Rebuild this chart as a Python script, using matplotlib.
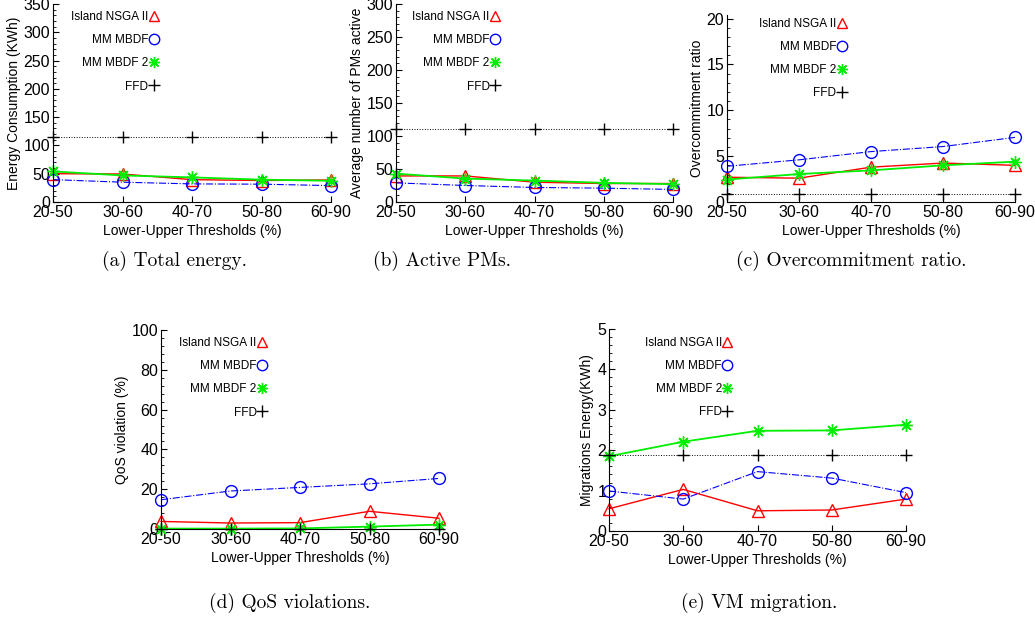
import matplotlib
matplotlib.use("Agg")
import matplotlib.pyplot as plt
from matplotlib.lines import Line2D
from matplotlib.ticker import AutoMinorLocator, MultipleLocator

categories = ["20-50", "30-60", "40-70", "50-80", "60-90"]
series_names = ["Island NSGA II", "MM MBDF", "MM MBDF 2", "FFD"]

energy_nsga = [50, 49.5, 39.5, 38, 39]
energy_mbdf = [39.5, 35, 32, 31.5, 29]
energy_mbdf2 = [54, 47, 43.5, 39.5, 37.5]
energy_ffd = [115, 115, 115, 115, 115]

pms_nsga = [39.5, 39.5, 30, 28, 28]
pms_mbdf = [29, 25, 22, 21, 19]
pms_mbdf2 = [43, 35.5, 32.5, 29, 27]
pms_ffd = [110, 110, 110, 110, 110]

oc_nsga = [2.7, 2.6, 3.8, 4.25, 4.0]
oc_mbdf = [3.9, 4.6, 5.5, 6.05, 7.05]
oc_mbdf2 = [2.45, 3.05, 3.45, 4.0, 4.4]
oc_ffd = [0.85, 0.85, 0.85, 0.85, 0.85]

qos_nsga = [3.8, 3.0, 3.2, 8.9, 5.4]
qos_mbdf = [14.7, 19.1, 20.9, 22.7, 25.4]
qos_mbdf2 = [0.2, 0.2, 0.3, 1.2, 2.2]
qos_ffd = [0, 0, 0, 0, 0]

mig_nsga = [0.55, 1.03, 0.5, 0.52, 0.79]
mig_mbdf = [0.99, 0.79, 1.47, 1.31, 0.95]
mig_mbdf2 = [1.85, 2.21, 2.48, 2.49, 2.63]
mig_ffd = [1.87, 1.87, 1.87, 1.87, 1.87]

SANS = ["Liberation Sans", "DejaVu Sans"]
plt.rcParams["font.family"] = SANS

W, H = 1035, 621
fig = plt.figure(figsize=(W / 100, H / 100), dpi=100)


def ax_from_px(left, right, top, bottom):
    return fig.add_axes([left / W, 1 - bottom / H, (right - left) / W, (bottom - top) / H])


ASTERISK = (8, 2, 0)
styles = [
    dict(color="#ff0000", linestyle="-", marker="^", mfc="none", mec="#ff0000", ms=8, lw=1.0),
    dict(color="#0000ff", linestyle="-.", marker="o", mfc="none", mec="#0000ff", ms=8.5, lw=0.8),
    dict(color="#00ee00", linestyle="-", marker=ASTERISK, mfc="#00ee00", mec="#00ee00", ms=9, lw=1.3),
    dict(color="black", linestyle=":", marker="+", mfc="black", mec="black", ms=9, lw=0.7),
]


def panel(rect, data, ylim, major, ylabel, leg_x, leg_y):
    ax = ax_from_px(*rect)
    x = list(range(len(categories)))
    for ys, st in zip(data, styles):
        ax.plot(x, ys, clip_on=False, markeredgewidth=1.0, **st)
    ax.set_xlim(0, len(categories) - 1)
    ax.set_ylim(*ylim)
    ax.set_xticks(x)
    ax.set_xticklabels(categories)
    ax.yaxis.set_major_locator(MultipleLocator(major))
    ax.yaxis.set_minor_locator(AutoMinorLocator(5))
    ax.spines["top"].set_visible(False)
    ax.spines["right"].set_visible(False)
    ax.tick_params(axis="both", which="major", direction="in", length=4, width=0.8,
                   labelsize=11.5, pad=2)
    ax.tick_params(axis="y", which="minor", direction="in", length=2, width=0.6)
    ax.set_xlabel("Lower-Upper Thresholds (%)", fontsize=10, labelpad=3)
    ax.set_ylabel(ylabel, fontsize=10, labelpad=2)
    handles = [Line2D([], [], linestyle="none", marker=st["marker"], mfc=st["mfc"],
                      mec=st["mec"], ms=st["ms"] - 1, markeredgewidth=1.0) for st in styles]
    ax.legend(handles, series_names, loc="upper right", bbox_to_anchor=(leg_x, leg_y),
              frameon=False, markerfirst=False, handlelength=0.6, handletextpad=0.15,
              labelspacing=0.95, borderpad=0, borderaxespad=0, fontsize=8.5)
    return ax


panel((53, 331, 4, 202), [energy_nsga, energy_mbdf, energy_mbdf2, energy_ffd],
      (0, 350), 50, "Energy Consumption (KWh)", 0.375, 0.965)
panel((396, 673, 4, 202), [pms_nsga, pms_mbdf, pms_mbdf2, pms_ffd],
      (0, 300), 50, "Average number of PMs active", 0.37, 0.965)
panel((727, 1015, 15, 202), [oc_nsga, oc_mbdf, oc_mbdf2, oc_ffd],
      (0, 20.4), 5, "Overcommitment ratio", 0.41, 0.985)
panel((161, 439, 330, 529), [qos_nsga, qos_mbdf, qos_mbdf2, qos_ffd],
      (0, 100), 20, "QoS violation (%)", 0.376, 0.965)
panel((609, 906, 329, 531), [mig_nsga, mig_mbdf, mig_mbdf2, mig_ffd],
      (0, 5), 1, "Migrations Energy(KWh)", 0.41, 0.962)

captions = [
    ("(a) Total energy.", 175, 261),
    ("(b) Active PMs.", 442, 261),
    ("(c) Overcommitment ratio.", 851, 261),
    ("(d) QoS violations.", 290, 603),
    ("(e) VM migration.", 759, 603),
]
for txt, cx, cy in captions:
    fig.text(cx / W, 1 - cy / H, txt, ha="center", va="center", fontsize=14,
             family=["cmr10", "DejaVu Serif"])

fig.savefig("out.png", dpi=100)
